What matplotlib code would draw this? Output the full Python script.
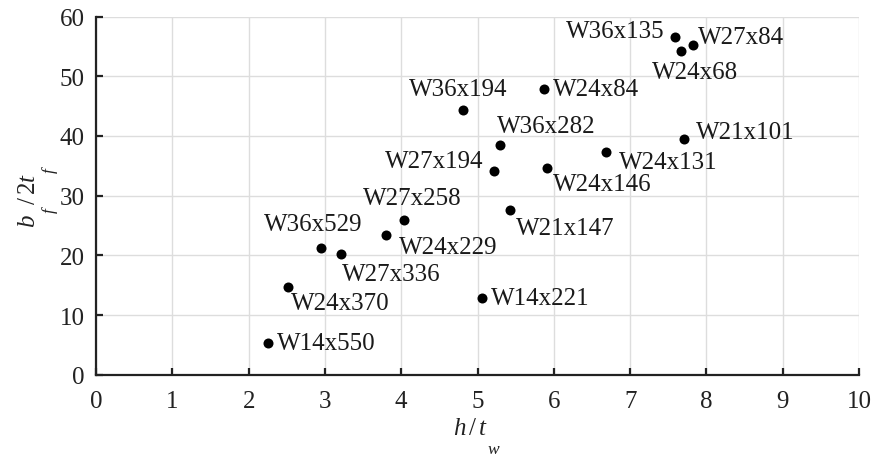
import matplotlib
matplotlib.use("Agg")
import matplotlib.pyplot as plt
import matplotlib._mathtext as mathtext_internal

plt.rcParams['font.family'] = ['Liberation Serif', 'DejaVu Serif']
plt.rcParams['mathtext.fontset'] = 'custom'
plt.rcParams['mathtext.rm'] = 'Liberation Serif'
plt.rcParams['mathtext.it'] = 'Liberation Serif:italic'
# drop subscripts well below the baseline, like the original labels
try:
    mathtext_internal.FontConstantsBase.sub1 = 1.6
except Exception:
    pass

# section names and slenderness ratios
sections = ["W14x550", "W24x370", "W36x529", "W27x336", "W24x229", "W27x258",
            "W14x221", "W21x147", "W36x194", "W24x84", "W36x282", "W27x194",
            "W24x146", "W24x131", "W21x101", "W36x135", "W24x68", "W27x84"]
h_tw = [2.26, 2.51, 2.95, 3.21, 3.80, 4.04,
        5.06, 5.43, 4.81, 5.87, 5.29, 5.22,
        5.91, 6.69, 7.70, 7.59, 7.67, 7.82]
bf_2tf = [5.3, 14.7, 21.2, 20.2, 23.4, 26.0,
          12.8, 27.6, 44.3, 47.9, 38.5, 34.1,
          34.7, 37.3, 39.5, 56.5, 54.3, 55.3]

# label placement (pixel offset from point, horizontal alignment)
label_pos = [(9, 0, 'left'), (3, -16, 'left'), (-8, 24, 'center'), (1, -20, 'left'),
             (13, -12, 'left'), (8, 22, 'center'), (9, 0, 'left'), (6, -18, 'left'),
             (-5, 21, 'center'), (9, 0, 'left'), (-3, 19, 'left'), (-11, 10, 'right'),
             (6, -16, 'left'), (12, -10, 'left'), (12, 7, 'left'), (-11, 6, 'right'),
             (14, -21, 'center'), (5, 8, 'left')]

fig = plt.figure(figsize=(8.73, 4.56), dpi=100)
ax = fig.add_axes([0.110, 0.176, 0.874, 0.7855])

ax.scatter(h_tw, bf_2tf, s=52, color='black', zorder=3, linewidths=0)
for name, x, y, (dx, dy, ha) in zip(sections, h_tw, bf_2tf, label_pos):
    ax.annotate(name, (x, y), xytext=(dx, dy), textcoords='offset pixels',
                ha=ha, va='center', fontsize=18, color='#1a1a1a')

ax.set_xlim(0, 10)
ax.set_ylim(0, 60)
ax.set_xticks(range(0, 11))
ax.set_yticks(range(0, 61, 10))
ax.grid(True, color='#dddddd', linewidth=1.0)
ax.set_axisbelow(True)
for side in ['top', 'right']:
    ax.spines[side].set_visible(False)
for side in ['left', 'bottom']:
    ax.spines[side].set_linewidth(1.6)
    ax.spines[side].set_color('#222222')
ax.tick_params(direction='in', length=5, width=1.6, color='#222222',
               labelsize=18, labelcolor='#222222')
ax.tick_params(axis='y', pad=8)
ax.tick_params(axis='x', pad=11)

ax.set_xlabel(r'$h\,/\,t_{\,w}$', fontsize=18, color='#222222', labelpad=3)
ax.set_ylabel(r'$b_{\,f}\,/\,2t_{\,f}$', fontsize=18, color='#222222', labelpad=-1)

fig.savefig('out.png', dpi=100)
